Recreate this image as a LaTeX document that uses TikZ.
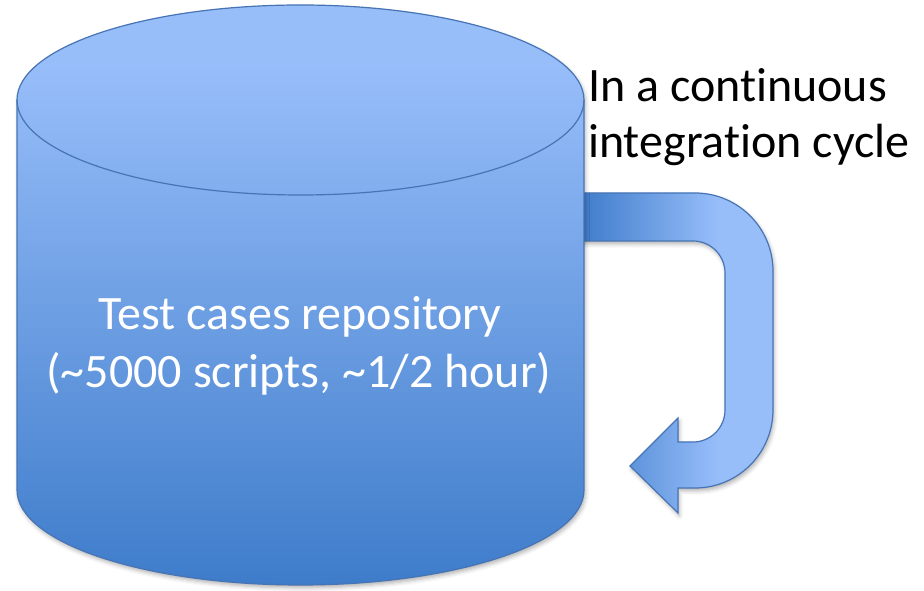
\documentclass[tikz,border=0pt]{standalone}
\usepackage{fontspec}
\setmainfont{Carlito}[Ligatures=NoCommon]
\usetikzlibrary{shadows.blur}

\definecolor{cylTop}{RGB}{152,190,250}
\definecolor{cylBot}{RGB}{62,124,202}
\definecolor{edgeBlue}{RGB}{70,116,180}

% light at the top, dark at the bottom
\pgfdeclareverticalshading{cylshade}{100bp}{color(0bp)=(cylBot); color(25bp)=(cylBot); color(70bp)=(cylTop); color(100bp)=(cylTop)}
% dark where the loop leaves the drum, light round the bend
\pgfdeclarehorizontalshading{loopshade}{100bp}{color(0bp)=(cylBot); color(25bp)=(cylBot); color(61bp)=(cylTop); color(100bp)=(cylTop)}

\begin{document}
\begin{tikzpicture}[x=1pt,y=1pt,
  edgeline/.style={draw=edgeBlue, line width=1.2pt},
  softshadow/.style={blur shadow={shadow xshift=1.5pt, shadow yshift=-3pt,
      shadow blur radius=4pt, shadow opacity=30}},
  txt/.style={font=\fontsize{48}{58}\selectfont, inner sep=0pt}]
\useasboundingbox (0,0) rectangle (924,591);

% U-turn arrow coming out of the drum
\path[edgeline, shading=loopshade, softshadow]
  (580,398) -- (695,398)
  arc[start angle=90, end angle=0, radius=78] -- (773,181)
  arc[start angle=0, end angle=-90, radius=78] -- (678,103)
  -- (678,78) -- (630,125) -- (678,173) -- (678,149) -- (693,149)
  arc[start angle=-90, end angle=0, radius=32] -- (725,318)
  arc[start angle=0, end angle=90, radius=32] -- (580,350) -- cycle;

% drum body
\path[shading=cylshade, softshadow]
  (17,491) -- (17,101)
  arc[start angle=180, end angle=360, x radius=283.5, y radius=95]
  -- (584,491)
  arc[start angle=0, end angle=180, x radius=283.5, y radius=95] -- cycle;
\draw[edgeline]
  (17,491) -- (17,101)
  arc[start angle=180, end angle=360, x radius=283.5, y radius=95]
  -- (584,491);
% drum lid
\draw[edgeline] (300.5,491) ellipse[x radius=283.5, y radius=95];

% labels
\node[txt, text=white, anchor=base] (repo1) at (300,261) {Test cases repository};
\node[txt, text=white, anchor=base] (repo2) at (299,203) {(\textasciitilde 5000 scripts, \textasciitilde 1/2 hour)};
\node[txt, anchor=base west] (ci1) at (588,489) {In a continuous};
\node[txt, anchor=base west] (ci2) at (588,433) {integration cycle};
\end{tikzpicture}
\end{document}
